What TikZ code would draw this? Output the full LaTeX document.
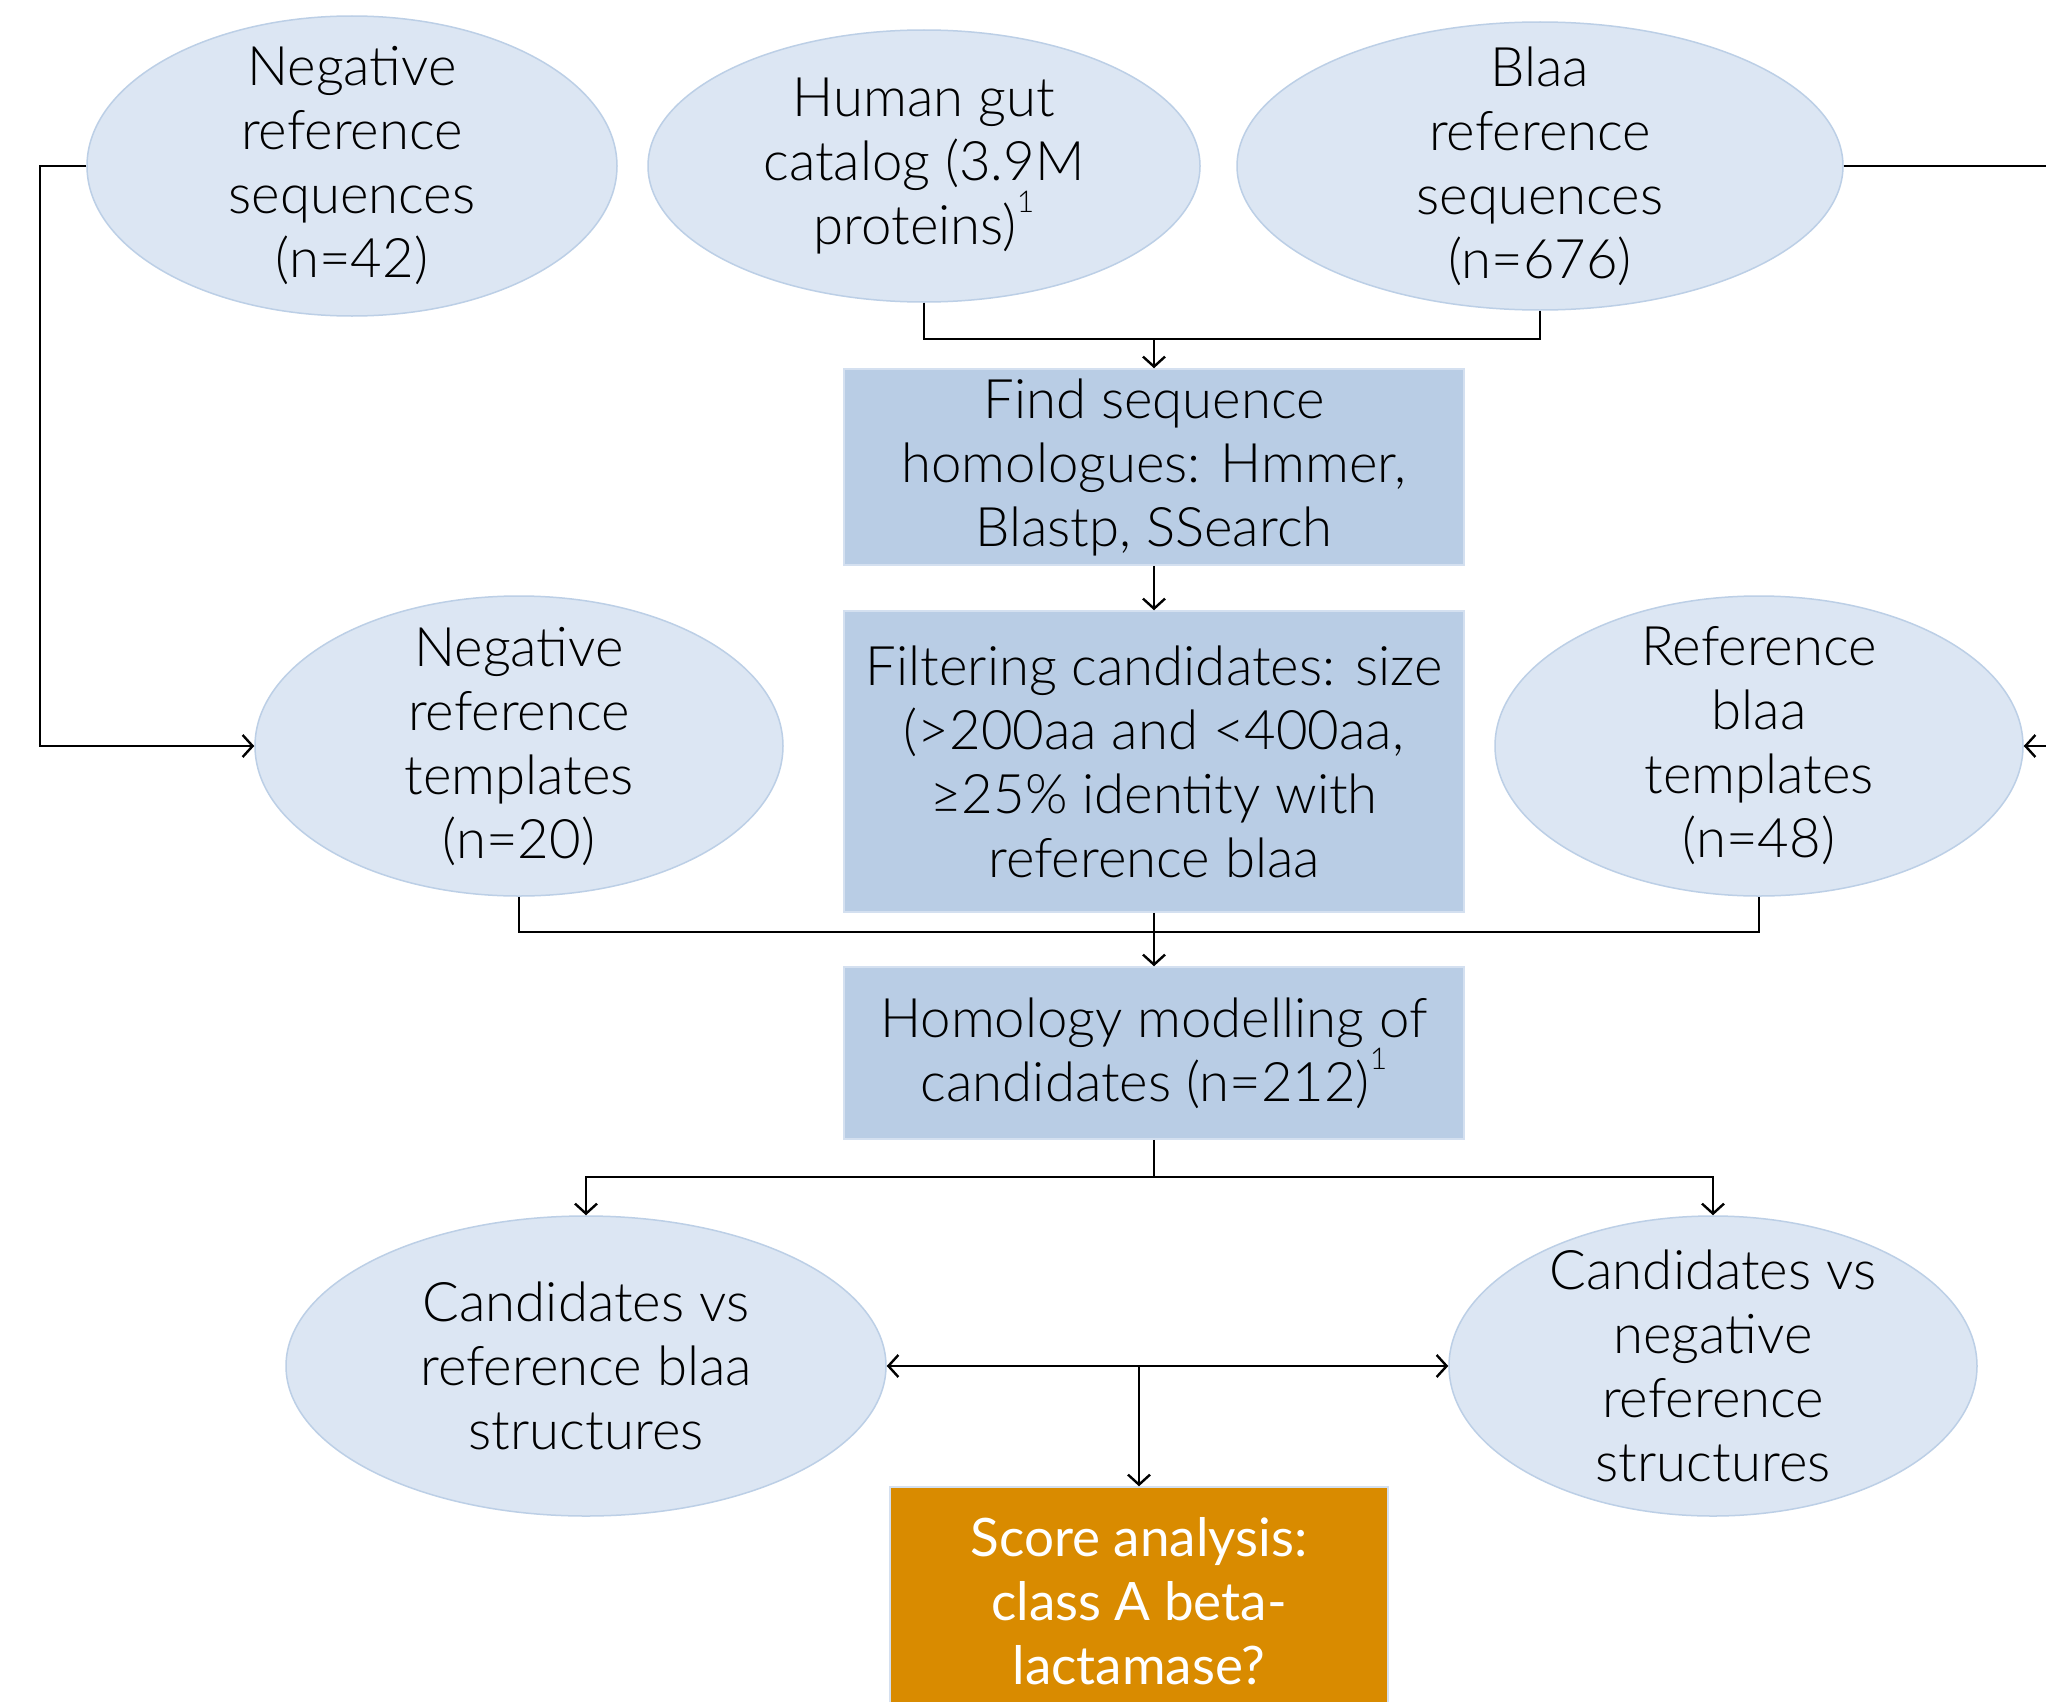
\documentclass[tikz,border=0pt]{standalone}
\usepackage{fontspec}
\setmainfont{Lato}[UprightFont=* Light]
\newfontfamily\latoreg{Lato}
\usetikzlibrary{shapes.geometric,arrows.meta}
\definecolor{ellfill}{HTML}{DCE6F3}
\definecolor{elldraw}{HTML}{BCCFE6}
\definecolor{boxfill}{HTML}{B9CDE5}
\definecolor{boxdraw}{HTML}{D4E0F0}
\definecolor{orangefill}{HTML}{D98B00}
\newcommand{\myfn}{\raisebox{0.58em}{\fontsize{30}{30}\selectfont 1}}
\begin{document}
\begin{tikzpicture}[x=1pt,y=-1pt,
  txt/.style={align=center,font=\fontsize{54.5}{64}\selectfont},
  ell/.style={txt,ellipse,fill=ellfill,draw=elldraw,line width=1.5pt,inner sep=-70pt},
  pbox/.style={txt,rectangle,fill=boxfill,draw=boxdraw,line width=1.5pt,inner sep=0pt,minimum width=620pt},
  sbox/.style={align=center,font=\latoreg\fontsize{53}{64}\selectfont,rectangle,fill=orangefill,draw=boxdraw,line width=1.5pt,inner sep=0pt,text=white},
  conn/.style={line width=2.6pt,draw=black},
  arr/.style={conn,-{Straight Barb[length=10pt,width=22pt,line width=2.4pt]}},
  arrb/.style={conn,{Straight Barb[length=10pt,width=22pt,line width=2.4pt]}-{Straight Barb[length=10pt,width=22pt,line width=2.4pt]}}]
\useasboundingbox[fill=white] (0,0) rectangle (2046,1702);

\node[ell,minimum width=530pt,minimum height=300pt] (nrs) at (352,166) {Negative\\reference\\sequences\\(n=42)};
\node[ell,minimum width=552pt,minimum height=272pt] (hg) at (924,166) {Human gut\\catalog (3.9M\\proteins)\myfn};
\node[ell,minimum width=606pt,minimum height=288pt] (brs) at (1540,166) {Blaa\\reference\\sequences\\(n=676)};

\node[pbox,minimum height=196pt] (find) at (1154,467) {Find sequence\\homologues: Hmmer,\\Blastp, SSearch};
\node[pbox,minimum height=301pt] (filt) at (1154,761.5) {Filtering candidates: size\\(>200aa and <400aa,\\≥25\% identity with\\reference blaa};

\node[ell,minimum width=528pt,minimum height=300pt] (nrt) at (519,746) {Negative\\reference\\templates\\(n=20)};
\node[ell,minimum width=528pt,minimum height=300pt] (rbt) at (1759,746) {Reference\\blaa\\templates\\(n=48)};

\node[pbox,minimum height=172pt] (hom) at (1154,1053) {Homology modelling of\\candidates (n=212)\myfn};

\node[ell,minimum width=600pt,minimum height=300pt] (cvr) at (586,1366) {Candidates vs\\reference blaa\\structures};
\node[ell,minimum width=528pt,minimum height=300pt] (cvn) at (1713,1366) {Candidates vs\\negative\\reference\\structures};

\node[sbox,minimum width=498pt,minimum height=228pt] (score) at (1139,1601) {Score analysis:\\class A beta-\\lactamase?};

\coordinate (j1) at (1154,339);
\coordinate (j2) at (1154,932);
\coordinate (j3) at (1154,1177);
\coordinate (j4) at (1139,1366);
\coordinate (lft) at (40,166);
\coordinate (rgt) at (2070,166);

\draw[arr] (nrs.west) -- (lft) |- (nrt.west);
\draw[arr] (brs.east) -- (rgt) |- (rbt.east);
\draw[conn] (hg.south) |- (j1) -| (brs.south);
\draw[arr] (j1) -- (find.north);
\draw[arr] (find.south) -- (filt.north);
\draw[conn] (nrt.south) |- (j2) -| (rbt.south);
\draw[arr] (filt.south) -- (hom.north);
\draw[conn] (hom.south) -- (j3);
\draw[arr] (j3) -| (cvr.north);
\draw[arr] (j3) -| (cvn.north);
\draw[arrb] (cvr.east) -- (cvn.west);
\draw[arr] (j4) -- (score.north);
\end{tikzpicture}
\end{document}
